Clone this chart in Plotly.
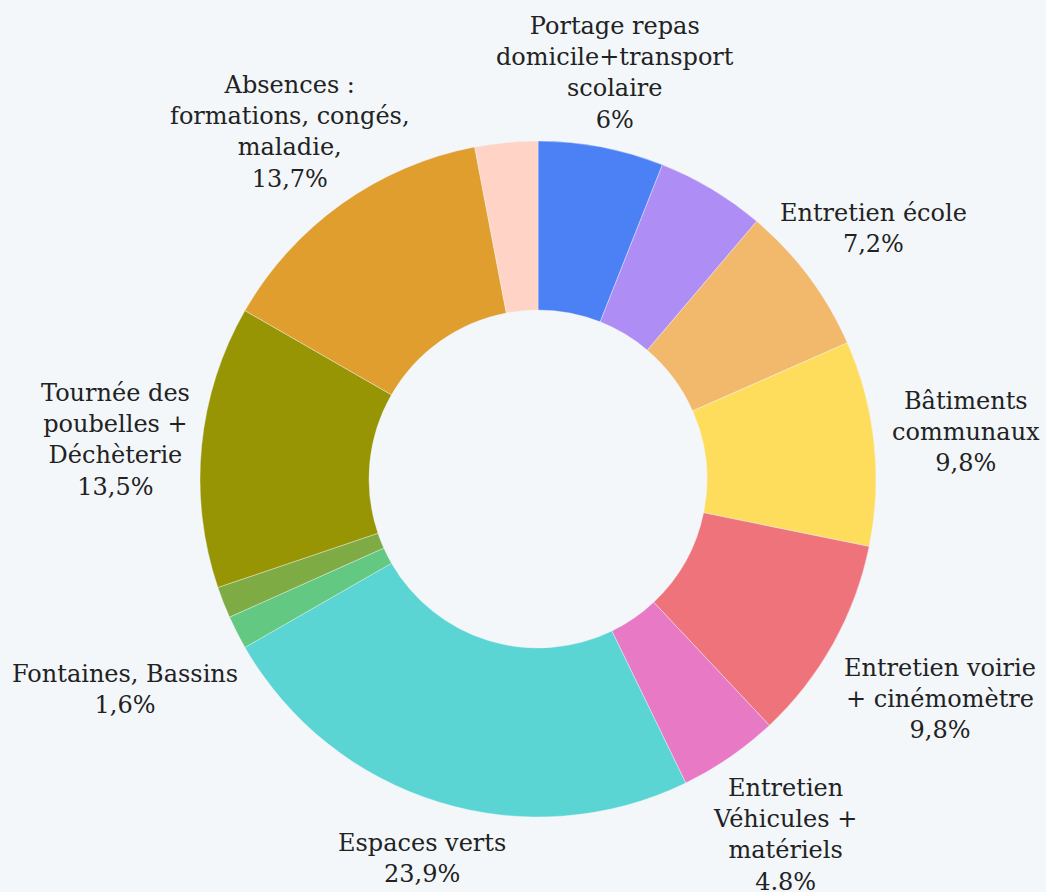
import plotly.graph_objects as go

# Data (clockwise from 12 o'clock)
categories = [
    "Portage repas domicile+transport scolaire",
    "Autre 1",
    "Entretien école",
    "Bâtiments communaux",
    "Entretien voirie + cinémomètre",
    "Entretien Véhicules + matériels",
    "Espaces verts",
    "Fontaines, Bassins",
    "Autre 2",
    "Tournée des poubelles + Déchèterie",
    "Absences : formations, congés, maladie,",
    "Autre 3",
]
values = [6.0, 5.2, 7.2, 9.8, 9.8, 4.8, 23.9, 1.6, 1.5, 13.5, 13.7, 3.0]
label_texts = [
    "Portage repas<br>domicile+transport<br>scolaire<br>6%",
    None,
    "Entretien école<br>7,2%",
    "Bâtiments<br>communaux<br>9,8%",
    "Entretien voirie<br>+ cinémomètre<br>9,8%",
    "Entretien<br>Véhicules +<br>matériels<br>4.8%",
    "Espaces verts<br>23,9%",
    "Fontaines, Bassins<br>1,6%",
    None,
    "Tournée des<br>poubelles +<br>Déchèterie<br>13,5%",
    "Absences :<br>formations, congés,<br>maladie,<br>13,7%",
    None,
]
colors = ["#4C80F5", "#AE8DF5", "#F2B86B", "#FFDD5C", "#EF737B", "#E879C4",
          "#5BD4D4", "#62C882", "#7FAB45", "#979503", "#DF9E2E", "#FFD3C5"]

W, H = 1046, 892
BG = "#F3F7FA"

# label centres in pixels (layout only)
label_pos = [
    (615, 73), None, (873, 228), (966, 432), (940, 699), (785, 835),
    (422, 858), (125, 689), None, (115, 440), (290, 132), None,
]

fig = go.Figure(go.Pie(
    labels=categories,
    values=values,
    hole=0.5,
    sort=False,
    direction="clockwise",
    rotation=0,
    textinfo="none",
    hoverinfo="label+percent",
    marker=dict(colors=colors, line=dict(color=BG, width=0.4)),
    domain=dict(x=[200 / W, 876 / W], y=[1 - 817 / H, 1 - 141 / H]),
    showlegend=False,
))

for txt, pos in zip(label_texts, label_pos):
    if txt is None or pos is None:
        continue
    fig.add_annotation(
        x=pos[0] / W, y=1 - pos[1] / H, xref="paper", yref="paper",
        text=txt, showarrow=False, xanchor="center", yanchor="middle",
        align="center",
        font=dict(family="DejaVu Serif", size=24, color="#222222"),
    )

fig.update_layout(
    width=W, height=H,
    margin=dict(l=0, r=0, t=0, b=0),
    paper_bgcolor=BG, plot_bgcolor=BG,
)

fig.write_html(
    "out.html",
    config={"displayModeBar": False},
    post_script="document.body.style.margin='0';document.body.style.background='%s';" % BG,
)
